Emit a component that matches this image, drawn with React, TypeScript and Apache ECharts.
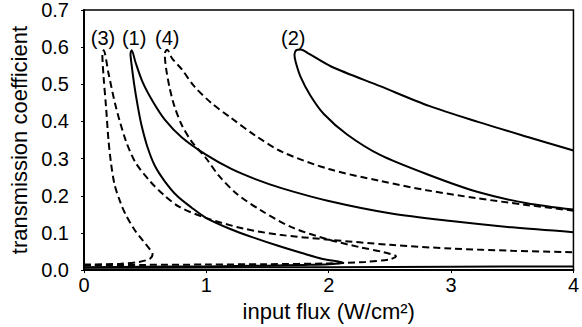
import React, { useEffect, useRef } from "react";
import * as echarts from "echarts";

// Curve (1) – solid: lower branch -> middle branch -> peak -> upper branch
const curve1: number[][] = [
  [0, 0.008], [0.5, 0.009], [1.0, 0.010], [1.5, 0.012], [1.8, 0.014], [2.0, 0.016], [2.12, 0.02],
  [1.95, 0.03], [1.78, 0.046], [1.58, 0.066], [1.38, 0.088], [1.2, 0.11], [1.0, 0.14],
  [0.88, 0.168], [0.76, 0.2], [0.66, 0.239], [0.58, 0.28], [0.52, 0.33], [0.47, 0.39],
  [0.44, 0.44], [0.41, 0.5], [0.39, 0.55], [0.38, 0.582], [0.39, 0.592],
  [0.42, 0.56], [0.48, 0.505], [0.56, 0.455], [0.66, 0.405], [0.8, 0.357], [1.0, 0.31],
  [1.2, 0.273], [1.4, 0.245], [1.62, 0.22], [2.0, 0.186], [2.5, 0.153], [3.0, 0.132],
  [3.5, 0.115], [4.0, 0.102],
];

// Curve (2) – solid: lower branch, then the loop entering from the right edge
const curve2Lower: number[][] = [
  [0, 0.006], [1, 0.007], [2, 0.008], [3, 0.009], [4, 0.01],
];
const curve2Loop: number[][] = [
  [4.0, 0.163], [3.62, 0.18], [3.22, 0.21], [2.82, 0.256], [2.42, 0.31], [2.15, 0.365],
  [1.96, 0.42], [1.85, 0.47], [1.77, 0.52], [1.73, 0.56], [1.72, 0.58], [1.735, 0.592],
  [1.77, 0.594], [1.84, 0.582], [2.02, 0.548], [2.42, 0.495], [2.82, 0.442], [3.22, 0.399],
  [3.62, 0.359], [4.0, 0.322],
];

// Curve (3) – dashed
const curve3: number[][] = [
  [0, 0.015], [0.3, 0.017], [0.45, 0.022], [0.54, 0.031], [0.56, 0.043],
  [0.54, 0.055], [0.48, 0.08], [0.41, 0.11], [0.34, 0.15], [0.3, 0.18], [0.25, 0.23],
  [0.22, 0.29], [0.2, 0.35], [0.18, 0.44], [0.16, 0.52], [0.15, 0.582], [0.16, 0.592],
  [0.2, 0.53], [0.26, 0.44], [0.34, 0.35], [0.42, 0.29], [0.54, 0.239], [0.66, 0.2],
  [0.78, 0.17], [1.0, 0.14], [1.3, 0.112], [1.6, 0.095], [2.0, 0.082], [2.5, 0.068],
  [3.0, 0.058], [3.5, 0.052], [4.0, 0.048],
];

// Curve (4) – dashed
const curve4: number[][] = [
  [0, 0.013], [0.5, 0.014], [1.0, 0.015], [1.5, 0.016], [2.0, 0.018], [2.3, 0.022],
  [2.5, 0.029], [2.55, 0.037], [2.45, 0.048], [2.25, 0.062], [2.0, 0.082], [1.7, 0.115],
  [1.45, 0.16], [1.25, 0.205], [1.1, 0.255], [1.0, 0.3], [0.88, 0.346], [0.8, 0.39],
  [0.74, 0.44], [0.7, 0.49], [0.67, 0.545], [0.66, 0.582], [0.68, 0.593],
  [0.72, 0.57], [0.8, 0.54], [0.9, 0.495], [1.04, 0.45], [1.2, 0.41], [1.4, 0.362],
  [1.62, 0.318], [2.0, 0.272], [2.42, 0.24], [2.8, 0.215], [3.2, 0.194], [3.6, 0.176],
  [4.0, 0.16],
];

const curveNames = ["(3)", "(1)", "(4)", "(2)"];
const curveLabelX = [0.155, 0.41, 0.68, 1.71];
const curveLabelY = [0.625, 0.625, 0.625, 0.625];

const xTicks = [0, 1, 2, 3, 4];
const yTicks = [0, 0.1, 0.2, 0.3, 0.4, 0.5, 0.6, 0.7];

const FONT = "'Liberation Sans', Arial, sans-serif";

export default function App() {
  const ref = useRef<HTMLDivElement>(null);
  useEffect(() => {
    document.body.style.margin = "0";
    if (!ref.current) return;
    const chart = echarts.init(ref.current, null, { renderer: "svg" });
    const solid = { color: "#000", width: 2, type: "solid" as const };
    const dashed = { color: "#000", width: 2, type: [7, 4] as any };
    const lineSeries = (data: number[][], style: any) => ({
      type: "line",
      data,
      smooth: 0.3,
      showSymbol: false,
      symbol: "none",
      lineStyle: style,
      clip: true,
      z: 3,
    });
    chart.setOption({
      animation: false,
      backgroundColor: "#fff",
      grid: {
        left: 78,
        right: 4,
        top: 10,
        bottom: 54,
        show: true,
        borderColor: "#000",
        borderWidth: 1.5,
        containLabel: false,
      },
      xAxis: {
        type: "value",
        min: xTicks[0],
        max: xTicks[xTicks.length - 1],
        interval: 1,
        name: "input flux (W/cm²)",
        nameLocation: "middle",
        nameGap: 25,
        nameTextStyle: { fontSize: 22, color: "#000", fontFamily: FONT },
        axisLine: { show: true, onZero: false, lineStyle: { color: "#000", width: 2 } },
        axisTick: { show: true, length: 3, lineStyle: { color: "#000" } },
        axisLabel: { fontSize: 20, color: "#000", fontFamily: FONT, margin: 5 },
        splitLine: { show: false },
      },
      yAxis: {
        type: "value",
        min: yTicks[0],
        max: yTicks[yTicks.length - 1],
        interval: 0.1,
        name: "transmission coefficient",
        nameLocation: "middle",
        nameGap: 54,
        nameTextStyle: { fontSize: 22, color: "#000", fontFamily: FONT },
        axisLine: { show: true, lineStyle: { color: "#000", width: 2 } },
        axisTick: { show: true, length: 3, lineStyle: { color: "#000" } },
        axisLabel: {
          fontSize: 20,
          color: "#000",
          fontFamily: FONT,
          margin: 15,
          padding: [10, 0, 0, 0],
          formatter: (v: number) => v.toFixed(1),
        },
        splitLine: { show: false },
      },
      series: [
        lineSeries(curve1, solid),
        lineSeries(curve2Lower, solid),
        lineSeries(curve2Loop, solid),
        lineSeries(curve3, dashed),
        lineSeries(curve4, dashed),
        {
          type: "scatter",
          symbolSize: 1,
          itemStyle: { color: "rgba(0,0,0,0)" },
          silent: true,
          data: curveNames.map((n, i) => ({ name: n, value: [curveLabelX[i], curveLabelY[i]] })),
          label: {
            show: true,
            position: "top",
            distance: -11,
            formatter: (p: any) => p.name,
            fontSize: 20,
            color: "#000",
            opacity: 1,
            fontFamily: FONT,
          },
          z: 5,
        },
      ],
    });
    return () => chart.dispose();
  }, []);
  return <div ref={ref} style={{ width: 582, height: 327 }} />;
}
